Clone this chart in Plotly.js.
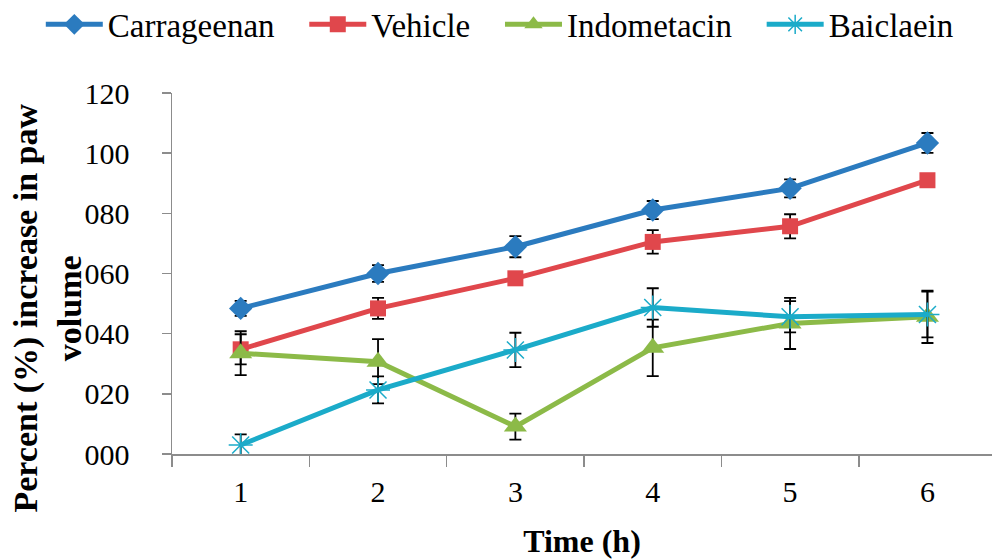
<!DOCTYPE html>
<html>
<head>
<meta charset="utf-8">
<script src="https://cdn.plot.ly/plotly-3.0.1.min.js"></script>
<style>html,body{margin:0;padding:0;background:#fff;}#chart{width:992px;height:559px;}</style>
</head>
<body>
<div id="chart"></div>
<script>
const times = ['1', '2', '3', '4', '5', '6'];
const yTickVals = [0, 20, 40, 60, 80, 100, 120];
const yTickText = ['000', '020', '040', '060', '080', '100', '120'];
const seriesNames = ['Carrageenan', 'Vehicle', 'Indometacin', 'Baiclaein'];

const carrageenan = [48.4, 60.0, 68.9, 81.1, 88.3, 103.4];
const carrageenanErr = [2.5, 2.8, 3.5, 3.0, 3.0, 3.3];
const vehicle = [34.8, 48.4, 58.4, 70.5, 75.7, 91.0];
const vehicleErr = [5.0, 3.5, 1.5, 3.9, 4.0, 1.5];
const indometacin = [33.5, 30.7, 9.1, 35.3, 43.4, 45.6];
const indometacinErr = [7.3, 7.5, 4.3, 9.4, 8.5, 8.7];
const baiclaein = [3.0, 21.3, 34.6, 48.7, 45.6, 46.4];
const baiclaeinErr = [3.5, 4.5, 5.7, 6.4, 5.2, 7.6];

const pad = '\u00A0\u00A0\u00A0';
const errStyle = (arr) => ({type: 'data', array: arr, visible: true, color: '#000', thickness: 1.8, width: 6});

const traces = [
  {name: seriesNames[0] + pad, x: times, y: carrageenan, error_y: errStyle(carrageenanErr), mode: 'lines+markers',
   line: {color: '#2b7bbf', width: 5}, marker: {symbol: 'diamond', size: 18, color: '#2b7bbf'}},
  {name: seriesNames[1] + pad, x: times, y: vehicle, error_y: errStyle(vehicleErr), mode: 'lines+markers',
   line: {color: '#e0474c', width: 5}, marker: {symbol: 'square', size: 16, color: '#e0474c'}},
  {name: seriesNames[2] + pad, x: times, y: indometacin, error_y: errStyle(indometacinErr), mode: 'lines+markers',
   line: {color: '#8cba48', width: 5}, marker: {symbol: 'triangle-up', size: 20, color: '#8cba48'}},
  {name: seriesNames[3], x: times, y: baiclaein, error_y: errStyle(baiclaeinErr), mode: 'lines+markers',
   line: {color: '#1babc9', width: 5}, marker: {symbol: 'asterisk-open', size: 20, color: '#1babc9', line: {color: '#1babc9', width: 1.5}}}
];

const font = 'Liberation Serif';
const layout = {
  width: 992, height: 559,
  margin: {l: 172, r: 0, t: 93, b: 105, autoexpand: false},
  paper_bgcolor: '#fff', plot_bgcolor: '#fff',
  font: {family: font, color: '#000', size: 30},
  showlegend: true,
  legend: {orientation: 'h', x: -0.16, xanchor: 'left', y: 1.19, yanchor: 'middle', itemwidth: 57,
           font: {family: font, size: 33, color: '#000'}, itemclick: false, tracegroupgap: 0},
  xaxis: {type: 'category', range: [-0.5, 5.47], tickson: 'boundaries', ticks: 'outside', ticklen: 11,
          tickcolor: '#8c8c8c', tickwidth: 1.5, showline: true, linecolor: '#8c8c8c', linewidth: 1.5,
          showgrid: false, zeroline: false, ticklabelstandoff: 10,
          tickfont: {family: font, size: 30, color: '#000'},
          title: {text: '<b>Time (h)</b>', font: {family: font, size: 32, color: '#000'}, standoff: 28}},
  yaxis: {range: [0, 120], tickvals: yTickVals, ticktext: yTickText, ticks: 'outside', ticklen: 9,
          tickcolor: '#8c8c8c', tickwidth: 1.5, showline: true, linecolor: '#8c8c8c', linewidth: 1.5,
          showgrid: false, zeroline: false, ticklabelstandoff: 26,
          tickfont: {family: font, size: 30, color: '#000'}},
  annotations: [{
    text: '<b>Percent (%) increase in paw<br>volume</b>', xref: 'paper', yref: 'paper',
    x: -0.152, y: 0.404, xanchor: 'center', yanchor: 'middle', textangle: -90, showarrow: false,
    font: {family: font, size: 34, color: '#000'}
  }]
};

Plotly.newPlot('chart', traces, layout, {displayModeBar: false, staticPlot: true});
</script>
</body>
</html>
